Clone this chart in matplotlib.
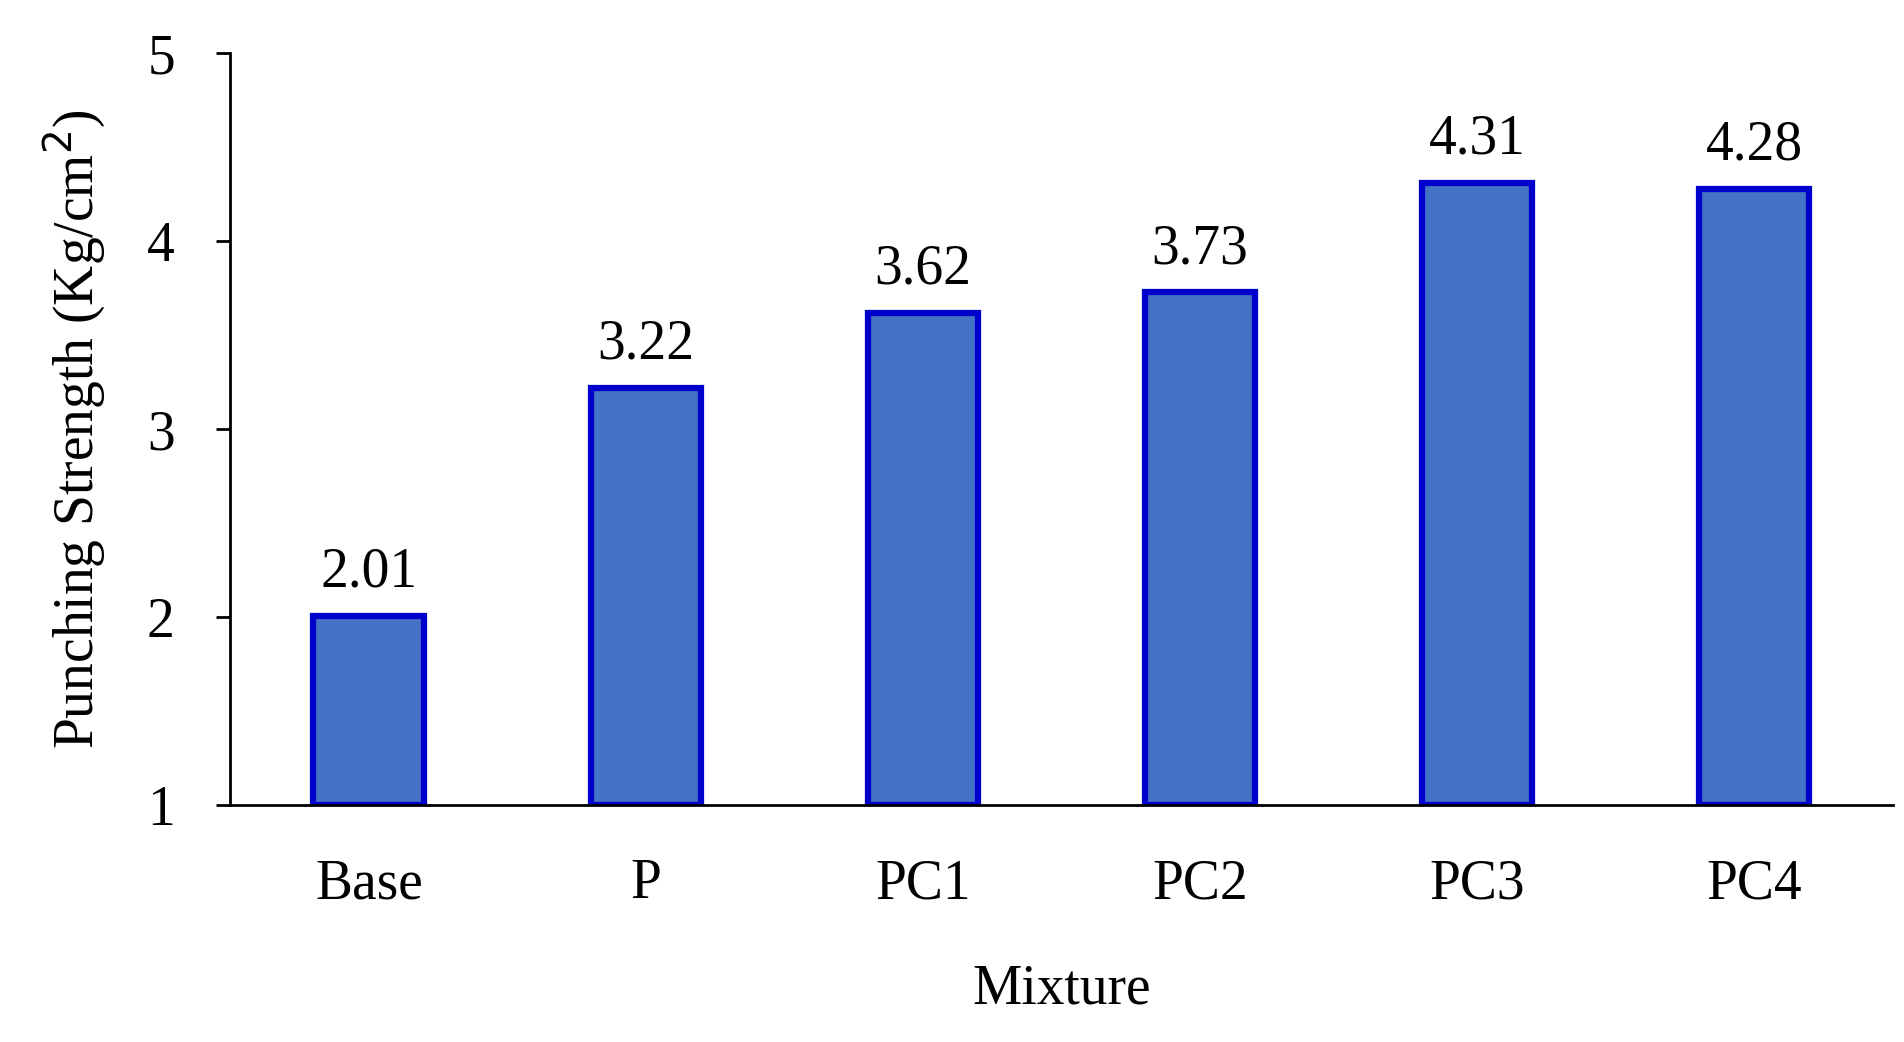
import matplotlib.pyplot as plt

mixtures = ["Base", "P", "PC1", "PC2", "PC3", "PC4"]
strength = [2.01, 3.22, 3.62, 3.73, 4.31, 4.28]

plt.rcParams['font.family'] = ['Liberation Serif', 'DejaVu Serif']

fig = plt.figure(figsize=(19.04, 10.42), dpi=100)
ax = fig.add_axes([0.121, 0.227, 0.873, 0.722])

x = range(len(mixtures))
ax.bar(x, [v - 1 for v in strength], bottom=1, width=0.4,
       color='#4472C4', edgecolor='#0000CC', linewidth=4.5)
for i, v in zip(x, strength):
    ax.text(i, v + 0.09, f"{v:.2f}", ha='center', va='bottom', fontsize=40)

ax.set_xlim(-0.5, 5.5)
ax.set_ylim(1, 5)
ax.set_yticks([1, 2, 3, 4, 5])
ax.set_xticks(list(x))
ax.set_xticklabels(mixtures)
ax.tick_params(axis='x', length=0, labelsize=40, pad=38)
ax.tick_params(axis='y', length=10, width=2, labelsize=40, pad=30, direction='out')
for s in ['top', 'right']:
    ax.spines[s].set_visible(False)
for s in ['left', 'bottom']:
    ax.spines[s].set_linewidth(2)
ax.set_xlabel("Mixture", fontsize=40, labelpad=38)
ax.set_ylabel("Punching Strength (Kg/cm$^2$)", fontsize=40, labelpad=28)

fig.savefig("out.png", dpi=100)
